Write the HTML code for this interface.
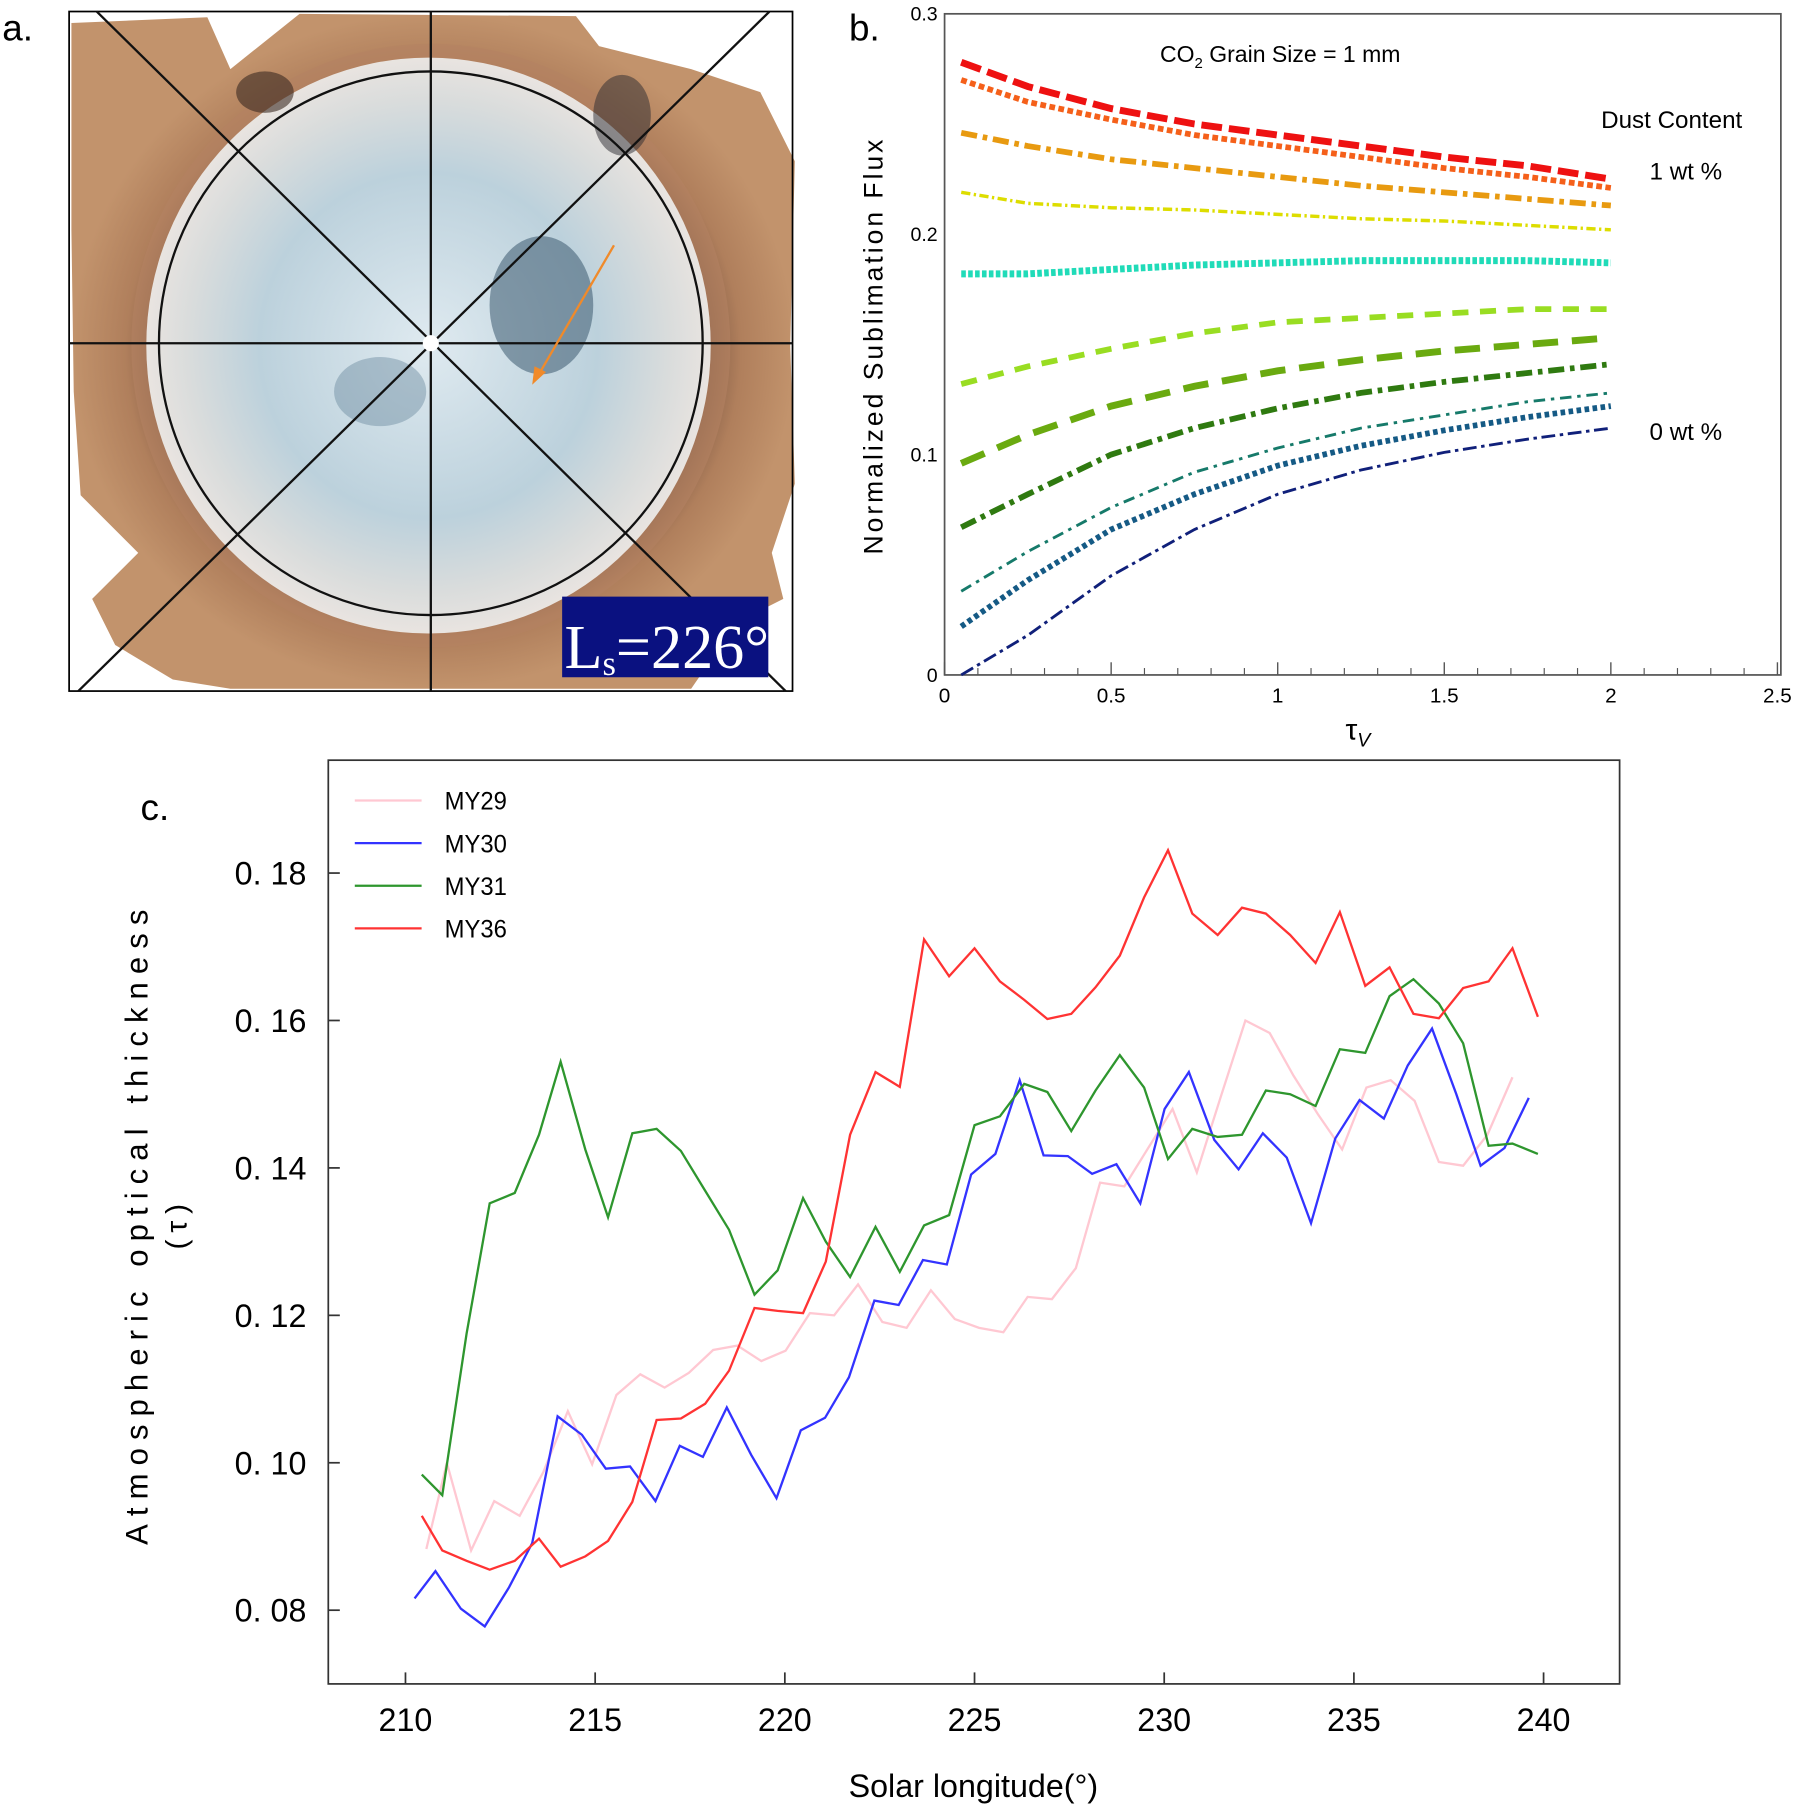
<!DOCTYPE html>
<html><head><meta charset="utf-8"><style>
html,body{margin:0;padding:0;background:#fff;}
svg{display:block;}
</style></head><body>
<svg id="fig" width="1797" height="1806" viewBox="0 0 1560 1568" preserveAspectRatio="none" xmlns="http://www.w3.org/2000/svg" font-family="Liberation Sans, sans-serif">
<defs>
<radialGradient id="iceG" cx="0.5" cy="0.5" r="0.5">
<stop offset="0" stop-color="#dfeaf0"/><stop offset="0.6" stop-color="#bcd1dc"/><stop offset="0.85" stop-color="#d9dcdc"/><stop offset="1" stop-color="#e9e4e0"/>
</radialGradient>
<radialGradient id="ringG" cx="0.5" cy="0.5" r="0.5">
<stop offset="0.7" stop-color="#6b4a3a"/><stop offset="0.85" stop-color="#b07f5c"/><stop offset="1" stop-color="#c2936c"/>
</radialGradient>
</defs>

<!-- Panel a -->
<g>
<text x="2" y="35" font-size="32">a.</text>
<path d="M62,20 L180,15 L200,60 L260,12 L500,14 L520,40 L600,60 L660,80 L690,140 L686,300 L690,420 L670,480 L680,520 L640,540 L600,598 L200,598 L150,590 L100,560 L80,520 L120,480 L70,430 L64,340 L62,200 Z" fill="url(#ringG)"/>
<ellipse cx="374" cy="300" rx="260" ry="262" fill="#b48262" opacity="0.6"/>
<ellipse cx="372" cy="300" rx="245" ry="250" fill="url(#iceG)"/>
<ellipse cx="470" cy="265" rx="45" ry="60" fill="#3d5a70" opacity="0.55"/>
<ellipse cx="330" cy="340" rx="40" ry="30" fill="#5f7f95" opacity="0.4"/>
<ellipse cx="230" cy="80" rx="25" ry="18" fill="#3a2a22" opacity="0.6"/>
<ellipse cx="540" cy="100" rx="25" ry="35" fill="#2a2a30" opacity="0.5"/>
<rect x="60" y="10" width="628" height="590" fill="none" stroke="#000" stroke-width="1.5"/>
<circle cx="374" cy="298" r="236" fill="none" stroke="#111" stroke-width="2"/>
<line x1="374" y1="10" x2="374" y2="600" stroke="#111" stroke-width="2"/>
<line x1="60" y1="298" x2="688" y2="298" stroke="#111" stroke-width="2"/>
<line x1="84" y1="10" x2="682" y2="600" stroke="#111" stroke-width="2"/>
<line x1="668" y1="10" x2="68" y2="600" stroke="#111" stroke-width="2"/>
<circle cx="374" cy="298" r="7" fill="#fff"/>
<line x1="533" y1="213" x2="466" y2="328" stroke="#f08a2a" stroke-width="2"/>
<polygon points="462,334 464,318 474,323" fill="#f08a2a"/>
<rect x="488" y="518" width="179" height="70" fill="#0a1180"/>
<text x="490" y="580" style="font-family:'Liberation Serif',serif" font-size="54" fill="#fff">L<tspan font-size="30" dy="6">s</tspan><tspan dy="-6">=226°</tspan></text>
</g>

<!-- Panel b -->
<g id="panelB">
<text x="737" y="35" font-size="32">b.</text>
<rect x="820" y="12" width="726" height="574" fill="none" stroke="#555" stroke-width="1.5"/>
<text x="1007" y="54" font-size="20">CO<tspan font-size="13" dy="5">2</tspan><tspan dy="-5"> Grain Size = 1 mm</tspan></text>
<text x="1390" y="111" font-size="21">Dust Content</text>
<text x="1432" y="156" font-size="21">1 wt %</text>
<text x="1432" y="382" font-size="21">0 wt %</text>
<text transform="translate(766,300) rotate(-90)" text-anchor="middle" font-size="23" letter-spacing="2.6">Normalized Sublimation Flux</text>
<text x="1168" y="642" font-size="26">τ<tspan font-size="17" dy="6" font-style="italic">V</tspan></text>
<g id="bAxes"></g><g id="bSeries"></g>
</g>

<!-- Panel c -->
<g id="panelC">
<text x="122" y="712" font-size="32">c.</text>
<rect x="285" y="660" width="1121" height="802" fill="none" stroke="#333" stroke-width="1.5"/>
<text transform="translate(128,1062) rotate(-90)" text-anchor="middle" font-size="27" letter-spacing="7">Atmospheric optical thickness</text>
<text transform="translate(162,1062) rotate(-90)" text-anchor="middle" font-size="26" letter-spacing="6">(τ)</text>
<text x="845" y="1560" text-anchor="middle" font-size="28">Solar longitude(°)</text>
<g id="cAxes"></g><g id="cSeries"></g><g id="cLegend"></g>
</g>
</svg>
<script>
// ---- Panel b data ----
const tauV = [0.05, 0.25, 0.5, 0.75, 1, 1.25, 1.5, 1.75, 2];
const fluxRed      = [0.278, 0.267, 0.257, 0.250, 0.245, 0.240, 0.235, 0.231, 0.225];
const fluxOrangeRed= [0.270, 0.260, 0.252, 0.245, 0.240, 0.235, 0.230, 0.226, 0.221];
const fluxOrange   = [0.246, 0.240, 0.234, 0.230, 0.226, 0.222, 0.219, 0.216, 0.213];
const fluxYellow   = [0.219, 0.214, 0.212, 0.211, 0.209, 0.207, 0.206, 0.204, 0.202];
const fluxCyan     = [0.182, 0.182, 0.184, 0.186, 0.187, 0.188, 0.188, 0.188, 0.187];
const fluxLime     = [0.132, 0.140, 0.148, 0.155, 0.160, 0.162, 0.164, 0.166, 0.166];
const fluxGreen    = [0.096, 0.109, 0.122, 0.131, 0.138, 0.143, 0.147, 0.150, 0.153];
const fluxDkGreen  = [0.067, 0.082, 0.100, 0.112, 0.121, 0.128, 0.133, 0.137, 0.141];
const fluxTeal     = [0.038, 0.056, 0.076, 0.092, 0.103, 0.112, 0.118, 0.124, 0.128];
const fluxBlue     = [0.022, 0.043, 0.066, 0.082, 0.095, 0.104, 0.111, 0.117, 0.122];
const fluxNavy     = [0.000, 0.018, 0.045, 0.066, 0.082, 0.093, 0.101, 0.107, 0.112];
const bXTicks = [0, 0.5, 1, 1.5, 2, 2.5];
const bXTickLabels = ["0", "0.5", "1", "1.5", "2", "2.5"];
const bYTicks = [0, 0.1, 0.2, 0.3];
const bYTickLabels = ["0", "0.1", "0.2", "0.3"];

// ---- Panel c data ----
const lsA = [210.43,210.97,211.61,212.22,212.88,213.52,214.09,214.74,215.34,215.98,216.62,217.26,217.90,218.53,219.20,219.81,220.48,221.08,221.72,222.39,223.03,223.67,224.33,225.00,225.67,226.31,226.92,227.55,228.19,228.83,229.47,230.10,230.74,231.41,232.05,232.68,233.32,233.99,234.63,235.30,235.94,236.57,237.24,237.88,238.55,239.18,239.85];
const lsMY30 = [210.24,210.79,211.46,212.09,212.73,213.34,214.01,214.65,215.28,215.92,216.59,217.23,217.84,218.47,219.11,219.78,220.42,221.06,221.69,222.36,223.00,223.64,224.27,224.91,225.55,226.19,226.82,227.46,228.10,228.74,229.37,230.01,230.65,231.32,231.96,232.60,233.23,233.87,234.51,235.15,235.79,236.42,237.06,237.70,238.34,238.97,239.61];
const lsMY29 = [210.55,211.09,211.73,212.34,213.01,213.64,214.28,214.92,215.56,216.19,216.83,217.47,218.11,218.75,219.38,220.02,220.66,221.30,221.93,222.57,223.21,223.85,224.48,225.12,225.76,226.40,227.04,227.67,228.31,228.95,229.59,230.22,230.86,231.50,232.14,232.78,233.41,234.05,234.69,235.33,235.97,236.60,237.24,237.88,238.52,239.18];
const tauMY29 = [.0883,.1,.0881,.0948,.0928,.0988,.107,.0998,.1092,.112,.1102,.1122,.1153,.1159,.1138,.1152,.1203,.12,.1242,.1191,.1183,.1234,.1195,.1183,.1177,.1225,.1222,.1264,.138,.1375,.1428,.148,.1394,.1498,.16,.1583,.1525,.1473,.1425,.1509,.1519,.1491,.1408,.1403,.1445,.1523];
const tauMY30 = [.0816,.0853,.0802,.0778,.0831,.0891,.1063,.1038,.0992,.0995,.0948,.1023,.1008,.1075,.1011,.0952,.1044,.1061,.1116,.122,.1214,.1275,.1269,.1391,.1419,.1519,.1417,.1416,.1392,.1405,.1352,.148,.153,.1438,.1398,.1447,.1414,.1325,.144,.1492,.1467,.1539,.1589,.15,.1403,.1427,.1495];
const tauMY31 = [.0984,.0956,.1175,.1352,.1366,.1445,.1544,.1425,.1333,.1447,.1453,.1423,.1369,.1316,.1228,.1261,.1359,.13,.1252,.132,.1259,.1322,.1336,.1458,.147,.1514,.1503,.145,.1505,.1553,.1509,.1412,.1453,.1442,.1445,.1505,.15,.1484,.1561,.1556,.1633,.1656,.1623,.1569,.143,.1433,.1419];
const tauMY36 = [.0928,.0881,.0867,.0855,.0867,.0897,.0859,.0873,.0894,.0947,.1058,.1060,.108,.1125,.121,.1206,.1203,.1273,.1445,.153,.151,.171,.166,.1698,.1653,.1628,.1602,.1609,.1645,.1688,.1767,.1831,.1745,.1716,.1753,.1745,.1716,.1678,.1747,.1647,.1672,.1609,.1603,.1644,.1653,.1698,.1605];
const cXTicks = [210, 215, 220, 225, 230, 235, 240];
const cXTickLabels = ["210", "215", "220", "225", "230", "235", "240"];
const cYTicks = [0.08, 0.10, 0.12, 0.14, 0.16, 0.18];
const cYTickLabels = ["0. 08", "0. 10", "0. 12", "0. 14", "0. 16", "0. 18"];
const cSeriesNames = ["MY29", "MY30", "MY31", "MY36"];

const NS = "http://www.w3.org/2000/svg";
function mk(tag, attrs, parent) {
  const e = document.createElementNS(NS, tag);
  for (const k in attrs) e.setAttribute(k, attrs[k]);
  parent.appendChild(e);
  return e;
}

// Panel b axes
const bx = v => 820 + v * (1543 - 820) / 2.5;
const by = v => 586 - v * (586 - 12) / 0.3;
const bAx = document.getElementById('bAxes');
bXTicks.forEach((t, i) => {
  const ln = mk('line', {x1: bx(t), x2: bx(t), y1: 586, y2: 575, stroke: '#555', 'stroke-width': 1.2}, bAx);
  
  
  const tx = mk('text', {x: bx(t), y: 610, 'text-anchor': 'middle', 'font-size': 18}, bAx);
  tx.textContent = bXTickLabels[i];
  
  
  if (i < bXTicks.length - 1) {
    for (let m = 1; m < 5; m++) {
      const mv = t + m * 0.1;
      const ml = mk('line', {x1: bx(mv), x2: bx(mv), y1: 586, y2: 580, stroke: '#555', 'stroke-width': 1}, bAx);
      
      
    }
  }
});
bYTicks.forEach((t, i) => {
  const tx = mk('text', {x: 814, y: by(t) + 6, 'text-anchor': 'end', 'font-size': 17}, bAx);
  tx.textContent = bYTickLabels[i];
  
  
});
const bSer = document.getElementById('bSeries');
const bDefs = [
  [fluxRed, '#ee1111', 6, '18 6', 'series-1wt'],
  [fluxOrangeRed, '#f5601a', 5, '5 3', 'series-0.9wt'],
  [fluxOrange, '#e89a10', 5, '14 5 4 5', 'series-0.8wt'],
  [fluxYellow, '#dddd00', 3, '8 3 2 3', 'series-0.7wt'],
  [fluxCyan, '#20dbb8', 6, '4 2', 'series-0.6wt'],
  [fluxLime, '#99dd22', 5, '14 10', 'series-0.5wt'],
  [fluxGreen, '#6aaa10', 6, '22 12', 'series-0.4wt'],
  [fluxDkGreen, '#2f7a10', 5, '14 5 4 5', 'series-0.3wt'],
  [fluxTeal, '#167a6a', 2.5, '10 5 3 5', 'series-0.2wt'],
  [fluxBlue, '#155a85', 5, '4 3', 'series-0.1wt'],
  [fluxNavy, '#10207a', 2.5, '12 4 3 4', 'series-0wt']
];
bDefs.forEach(d => {
  const pts = tauV.map((x, i) => bx(x) + ',' + by(d[0][i])).join(' ');
  const pl = mk('polyline', {points: pts, fill: 'none', stroke: d[1], 'stroke-width': d[2], 'stroke-dasharray': d[3]}, bSer);
  
  
});

// Panel c axes
const cx = v => 352 + (v - 210) * (1340 - 352) / 30;
const cy = v => 1398 - (v - 0.08) * 6400;
const cAx = document.getElementById('cAxes');
cXTicks.forEach((t, i) => {
  const ln = mk('line', {x1: cx(t), x2: cx(t), y1: 1462, y2: 1452, stroke: '#333', 'stroke-width': 1.5}, cAx);
  
  
  const tx = mk('text', {x: cx(t), y: 1503, 'text-anchor': 'middle', 'font-size': 28}, cAx);
  tx.textContent = cXTickLabels[i];
  
  
});
cYTicks.forEach((t, i) => {
  const ln = mk('line', {x1: 285, x2: 295, y1: cy(t), y2: cy(t), stroke: '#333', 'stroke-width': 1.5}, cAx);
  
  
  const tx = mk('text', {x: 266, y: cy(t) + 10, 'text-anchor': 'end', 'font-size': 28}, cAx);
  tx.textContent = cYTickLabels[i];
  
  
});
const cSer = document.getElementById('cSeries');
const cDefs = [
  [lsMY29, tauMY29, '#ffc8d2', 'line-my29'],
  [lsMY30, tauMY30, '#3333ff', 'line-my30'],
  [lsA, tauMY31, '#2e962e', 'line-my31'],
  [lsA, tauMY36, '#ff3333', 'line-my36']
];
cDefs.forEach(d => {
  const pts = d[0].map((x, i) => cx(x) + ',' + cy(d[1][i])).join(' ');
  const pl = mk('polyline', {points: pts, fill: 'none', stroke: d[2], 'stroke-width': 2}, cSer);
  
  
});
const cLeg = document.getElementById('cLegend');
cDefs.forEach((d, i) => {
  const y = 695 + i * 37;
  const g = mk('g', {}, cLeg);
  
  
  mk('line', {x1: 308, x2: 366, y1: y, y2: y, stroke: d[2], 'stroke-width': 2}, g);
  const tx = mk('text', {x: 386, y: y + 8, 'font-size': 22, textLength: 54, lengthAdjust: 'spacingAndGlyphs'}, g);
  tx.textContent = cSeriesNames[i];
});
</script>
</body></html>
